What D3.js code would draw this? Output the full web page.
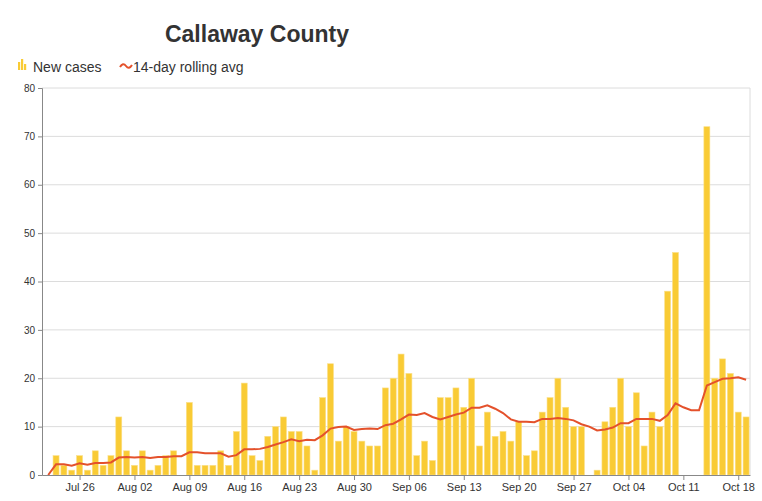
<!DOCTYPE html>
<html>
<head>
<meta charset="utf-8">
<script src="https://cdn.jsdelivr.net/npm/d3@7"></script>
<style>
  body { margin: 0; background: #fff; font-family: "Open Sans", Arial, sans-serif; }
</style>
</head>
<body>
<script>
// daily new cases, starting Jul 22 2020
var startDate = "2020-07-22";
var newCases = [0, 4, 2, 1, 4, 1, 5, 2, 4, 12, 5, 2, 5, 1, 2, 4, 5, 0,
  15, 2, 2, 2, 5, 2, 9, 19, 4, 3, 8, 10, 12, 9, 9, 6, 1, 16, 23, 7, 10, 9, 7, 6,
  6, 18, 20, 25, 21, 4, 7, 3, 16, 16, 18, 14, 20, 6, 13, 8, 9, 7, 11, 4, 5, 13, 16, 20, 14, 10, 10, 0,
  1, 11, 14, 20, 10, 17, 6, 13, 10, 38, 46, 0, 0, 0, 72, 20, 24, 21, 13, 12];
var rollingAvg = [0, 2.2, 2.2, 1.9, 2.4, 2.1, 2.5, 2.5, 2.6, 3.6, 3.7, 3.6, 3.7, 3.5, 3.7, 3.7, 3.9, 3.9,
  4.7, 4.7, 4.5, 4.5, 4.5, 3.8, 4.1, 5.3, 5.3, 5.4, 5.8, 6.3, 6.8, 7.4, 7.0, 7.3, 7.2, 8.2, 9.6, 9.9, 10.0, 9.3, 9.5, 9.6,
  9.5, 10.3, 10.6, 11.5, 12.5, 12.4, 12.8, 12.0, 11.5, 12.0, 12.5, 12.9, 13.9, 13.9, 14.4, 13.7, 12.8, 11.5, 11.0, 11.0, 10.9, 11.6, 11.6, 11.8, 11.6, 11.3, 10.5, 10.0,
  9.2, 9.4, 9.8, 10.7, 10.7, 11.6, 11.6, 11.6, 11.2, 12.4, 14.8, 14.0, 13.4, 13.4, 18.5, 19.2, 19.9, 20.0, 20.2, 19.7];
var yTicks = [0, 10, 20, 30, 40, 50, 60, 70, 80];
var xTickDates = ["2020-07-26", "2020-08-02", "2020-08-09", "2020-08-16", "2020-08-23", "2020-08-30",
  "2020-09-06", "2020-09-13", "2020-09-20", "2020-09-27", "2020-10-04", "2020-10-11", "2020-10-18"];

var parse = d3.timeParse("%Y-%m-%d");
var start = parse(startDate);
var days = newCases.map(function(v, i) { return d3.timeDay.offset(start, i); });

var w = 762, h = 501;
var mLeft = 42, mRight = 750, mTop = 88, mBottom = 475;

var svg = d3.select("body").append("svg").attr("width", w).attr("height", h);

var x = d3.scaleTime()
  .domain([d3.timeHour.offset(start, -19), d3.timeHour.offset(days[days.length - 1], 12)])
  .range([mLeft, mRight]);
var y = d3.scaleLinear().domain([0, 80]).range([mBottom, mTop]);

// grid
svg.selectAll("line.grid").data(yTicks.slice(1)).enter().append("line")
  .attr("x1", mLeft).attr("x2", mRight)
  .attr("y1", function(d) { return y(d); }).attr("y2", function(d) { return y(d); })
  .attr("stroke", "#dcdcdc").attr("stroke-width", 1);
svg.append("line").attr("x1", mRight).attr("x2", mRight).attr("y1", mTop).attr("y2", mBottom)
  .attr("stroke", "#dcdcdc");

// bars
var bw = 6;
svg.selectAll("rect.bar").data(newCases).enter().append("rect")
  .attr("x", function(d, i) { return x(days[i]) - bw / 2; })
  .attr("y", function(d) { return y(d); })
  .attr("width", bw)
  .attr("height", function(d) { return mBottom - y(d); })
  .attr("fill", "#f9cb35")
  .attr("stroke", "#fbe08a").attr("stroke-width", 0.6);

// rolling avg line
var line = d3.line()
  .x(function(d, i) { return x(days[i]); })
  .y(function(d) { return y(d); });
svg.append("path").datum(rollingAvg)
  .attr("d", line).attr("fill", "none")
  .attr("stroke", "#e4512b").attr("stroke-width", 2);

// axes
var yAxis = svg.append("g").attr("transform", "translate(" + mLeft + ",0)")
  .call(d3.axisLeft(y).tickValues(yTicks).tickSize(4));
yAxis.selectAll("text").attr("font-size", "10px").attr("fill", "#333").attr("font-family", "Arial, sans-serif");
yAxis.selectAll("line, path").attr("stroke", "#888");

var xAxis = svg.append("g").attr("transform", "translate(0," + mBottom + ")")
  .call(d3.axisBottom(x).tickValues(xTickDates.map(parse)).tickFormat(d3.timeFormat("%b %d")).tickSize(5).tickSizeOuter(0));
xAxis.selectAll("text").attr("font-size", "11px").attr("fill", "#333").attr("font-family", "Arial, sans-serif");
xAxis.selectAll("line, path").attr("stroke", "#888");

// title
svg.append("text").text("Callaway County")
  .attr("x", 257).attr("y", 42).attr("text-anchor", "middle")
  .attr("font-family", "Arial, sans-serif").attr("font-weight", "bold")
  .attr("font-size", "23px").attr("fill", "#333");

// legend
var lg = svg.append("g").attr("font-family", "Arial, sans-serif").attr("font-size", "14px").attr("fill", "#333");
[[0, 8], [3, 11], [6, 6]].forEach(function(b) {
  lg.append("rect").attr("x", 18 + b[0]).attr("y", 70 - b[1]).attr("width", 2.2).attr("height", b[1]).attr("fill", "#f9cb35");
});
lg.append("text").text("New cases").attr("x", 33).attr("y", 72);
lg.append("path").attr("d", "M120,67 Q123,62 126,66 T132,65").attr("fill", "none")
  .attr("stroke", "#e4512b").attr("stroke-width", 2);
lg.append("text").text("14-day rolling avg").attr("x", 133).attr("y", 72);
</script>
</body>
</html>
